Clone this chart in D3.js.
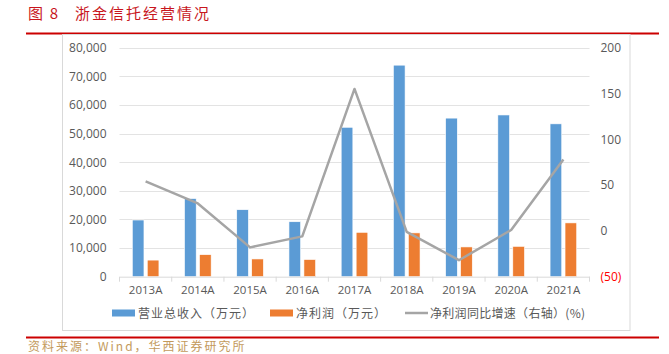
<!DOCTYPE html>
<html><head><meta charset="utf-8">
<script src="https://cdn.jsdelivr.net/npm/d3@7"></script>
<style>
html,body{margin:0;padding:0;background:#fff;}
svg{display:block;}
</style></head>
<body>
<svg id="c" width="669" height="354"></svg>
<script>
const categories = ["2013A","2014A","2015A","2016A","2017A","2018A","2019A","2020A","2021A"];
const revenue = [19800, 27300, 23400, 19200, 52200, 73900, 55400, 56500, 53400];
const netProfit = [5800, 7700, 6200, 6000, 15500, 15300, 10400, 10600, 18800];
const growth = [54, 30, -18, -6, 155, -1, -32, 1, 78];
const leftTicks = [0,10000,20000,30000,40000,50000,60000,70000,80000];
const rightTicks = [-50,0,50,100,150,200];
const seriesNames = ["营业总收入（万元）","净利润（万元）","净利润同比增速（右轴）(%)"];
const titleNum = "图 8";
const titleText = "浙金信托经营情况";
const sourceText = "资料来源：Wind，华西证券研究所";

const colors = {rev:"#5b9bd5", np:"#ed7d31", line:"#a5a5a5"};
const svg = d3.select("#c");
const cjk = "'Noto Sans CJK SC','Noto Sans',sans-serif";
const latin = "'Open Sans','Liberation Sans',sans-serif";

// title
svg.append("text").attr("x",28).attr("y",19).attr("fill","#c8161d")
  .style("font-family",cjk).style("font-size","15px").attr("xml:space","preserve").style("white-space","pre")
  .text(titleNum.replace(" ", "  "));
svg.append("text").attr("x",75).attr("y",19).attr("fill","#c8161d")
  .style("font-family",cjk).style("font-size","15px").style("letter-spacing","2px")
  .text(titleText);
// red rules
svg.append("line").attr("x1",26).attr("x2",659).attr("y1",33.5).attr("y2",33.5).attr("stroke","#cc0000").attr("stroke-width",2.2);
// frame
svg.append("rect").attr("x",62.5).attr("y",34.5).attr("width",567.5).attr("height",296).attr("fill","none").attr("stroke","#d9d9d9").attr("stroke-width",1);
svg.append("line").attr("x1",26).attr("x2",659).attr("y1",337.5).attr("y2",337.5).attr("stroke","#cc0000").attr("stroke-width",2.2);
svg.append("text").attr("x",28).attr("y",351).attr("fill","#c39a5c")
  .style("font-family",cjk).style("font-size","12px").style("letter-spacing","2px").text(sourceText);

const L=119.5, R=589.5, T=47.7, B=276.7;
const x = d3.scaleBand().domain(categories).range([L,R]).padding(0);
const bw = x.bandwidth();
const x1 = d3.scaleBand().domain(["rev","np"]).range([bw*0.245, bw*0.755]).paddingInner(0.22);
const yL = d3.scaleLinear().domain([0,80000]).range([B,T]);
const yR = d3.scaleLinear().domain([-50,200]).range([B,T]);

// gridlines
svg.append("g").selectAll("line").data(leftTicks.slice(1)).join("line")
  .attr("x1",L).attr("x2",R).attr("y1",d=>Math.round(yL(d))+0.5).attr("y2",d=>Math.round(yL(d))+0.5)
  .attr("stroke","#e3e3e3").attr("stroke-width",1);

// left axis
const gl = svg.append("g").attr("transform",`translate(${L},0)`)
  .call(d3.axisLeft(yL).tickValues(leftTicks).tickFormat(d3.format(",")).tickSize(0).tickPadding(13));
gl.select(".domain").remove();
gl.selectAll("text").attr("fill","#595959").style("font-family",latin).style("font-size","12px");

// right axis
const gr = svg.append("g").attr("transform",`translate(${R},0)`)
  .call(d3.axisRight(yR).tickValues(rightTicks).tickFormat(d=> d<0 ? `(${-d})` : d).tickSize(0).tickPadding(11));
gr.select(".domain").remove();
gr.selectAll("text").attr("fill",d=> d<0 ? "#ff0000" : "#595959").style("font-family",latin).style("font-size","12px");

// bars
const grp = svg.append("g").selectAll("g").data(categories).join("g")
  .attr("transform",d=>`translate(${x(d)},0)`);
grp.append("rect").attr("x",x1("rev")).attr("width",x1.bandwidth())
  .attr("y",(d,i)=>yL(revenue[i])).attr("height",(d,i)=>B-yL(revenue[i]))
  .attr("fill",colors.rev).attr("stroke","#fff").attr("stroke-width",0.6);
grp.append("rect").attr("x",x1("np")).attr("width",x1.bandwidth())
  .attr("y",(d,i)=>yL(netProfit[i])).attr("height",(d,i)=>B-yL(netProfit[i]))
  .attr("fill",colors.np).attr("stroke","#fff").attr("stroke-width",0.6);

// x axis
const gx = svg.append("g").attr("transform",`translate(0,${B})`)
  .call(d3.axisBottom(x).tickSize(0).tickPadding(9));
gx.select(".domain").attr("stroke","#d9d9d9");
gx.selectAll("text").attr("fill","#595959").style("font-family",latin).style("font-size","11.5px");
svg.append("g").selectAll("line").data(categories.concat(["__end"])).join("line")
  .attr("x1",(d,i)=>L+i*bw).attr("x2",(d,i)=>L+i*bw).attr("y1",B).attr("y2",B+5)
  .attr("stroke","#d9d9d9");

// line
const line = d3.line().x((d,i)=>x(categories[i])+bw/2).y(d=>yR(d));
svg.append("path").datum(growth).attr("d",line).attr("fill","none")
  .attr("stroke",colors.line).attr("stroke-width",2.5).attr("stroke-linejoin","round");

// legend
const lg = svg.append("g").style("font-family",cjk).style("font-size","12px");
const ly = 313;
lg.append("rect").attr("x",112).attr("y",ly-3.5).attr("width",23).attr("height",7).attr("fill",colors.rev);
lg.append("text").attr("x",138).attr("y",ly+4.5).attr("fill","#595959").style("letter-spacing","1px").text(seriesNames[0]);
lg.append("rect").attr("x",270).attr("y",ly-3.5).attr("width",23).attr("height",7).attr("fill",colors.np);
lg.append("text").attr("x",296).attr("y",ly+4.5).attr("fill","#595959").style("letter-spacing","1px").text(seriesNames[1]);
lg.append("line").attr("x1",405).attr("x2",428).attr("y1",ly).attr("y2",ly).attr("stroke",colors.line).attr("stroke-width",2.5);
lg.append("text").attr("x",430).attr("y",ly+4.5).attr("fill","#595959").style("letter-spacing","0.3px").text(seriesNames[2]);
</script>
</body></html>
